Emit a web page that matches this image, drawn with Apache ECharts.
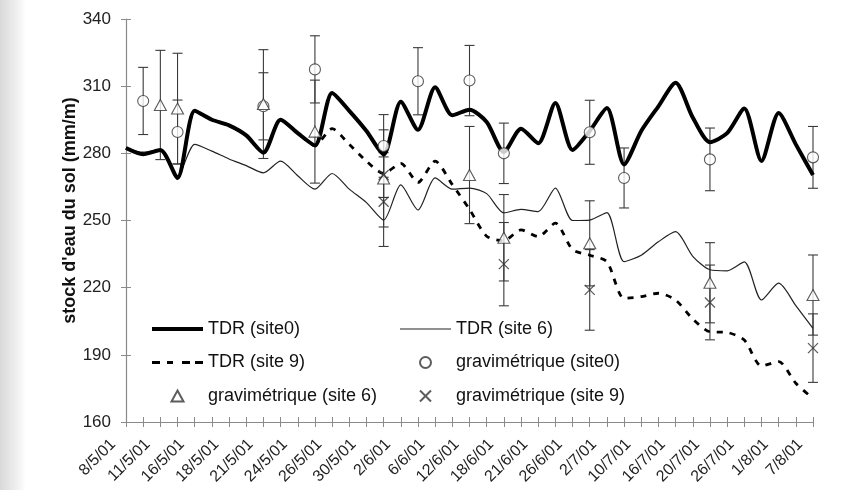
<!DOCTYPE html>
<html><head><meta charset="utf-8">
<script src="https://cdn.jsdelivr.net/npm/echarts/dist/echarts.min.js"></script>
<style>html,body{margin:0;padding:0;background:#fff}#c{width:843px;height:490px}</style>
</head><body><div id="c"></div>
<script>
// ---- data ----
const dateLabels = ['8/5/01','11/5/01','16/5/01','18/5/01','21/5/01','24/5/01','26/5/01','30/5/01','2/6/01','6/6/01','12/6/01','18/6/01','21/6/01','26/6/01','2/7/01','10/7/01','16/7/01','20/7/01','26/7/01','1/8/01','7/8/01'];
// 41 category ticks: labelled dates on even ticks, unlabelled ticks between
const categories = [];
dateLabels.forEach((d, i) => { categories.push(d); if (i < dateLabels.length - 1) categories.push(''); });

const tdrSite0 = [282.4,279.6,281.5,269,299,295,292.5,288,280.3,295,289,283.5,307,299,290,279.5,303,290.5,309.5,297,299.5,294,280.6,291,284.5,302.5,281.5,290,300.2,275,290,301,311.5,296,285,289,300,276.6,298,284,270.3];
const tdrSite6 = [282.4,280.5,281.5,270,284,281,277.5,274.5,271.3,276.5,270,264,271,264,258,250.2,265.9,254.7,269,264,264.5,262,253.4,255,254,264.5,250,250.2,253.5,231.6,234.5,240.5,245,234,228,227.5,231.5,214.5,222,212,201.8];
const tdrSite9 = [282.4,279.6,281.5,269,299,295,292.5,288,280.3,295,289,283.5,291,284,276.5,271,275.5,267,276.5,266,255,243,241,245.8,242.8,248.8,237,234.5,231.6,215.2,216,217.5,214.5,206,200.3,200,196.6,185,187,177.3,170.5];

const grav0Idx = [1,3,8,11,15,17,20,22,27,29,34,40];
const grav0Val = [303.4,289.5,301,317.5,283.3,312.2,312.5,280,289.4,269,277.3,278.2];
const grav0Err = [15,14.3,15,15,14,15,15.7,13.5,14.3,13.4,14,13.8];

const grav6Idx = [2,3,8,11,15,20,22,27,34,40];
const grav6Val = [301.6,300,302,289.7,268.8,270.3,242.3,239.8,222.2,216.7];
const grav6Err = [24.4,24.7,24.3,23,21.7,21.7,19.3,19,17.9,17.9];

const grav9Idx = [15,15,22,27,34,40];
const grav9Val = [270.3,258.4,230.5,219,213.4,193];
const grav9Err = [10,20,18.6,18,16.7,15.3];

const yTicks = {min:160, max:340, step:30};
// ---- end data ----

const FONT = '"Liberation Sans", Arial, sans-serif';
const pts = (idx, val) => idx.map((x, i) => [x, val[i]]);
const bars = (idx, val, err) => idx.map((x, i) => [x, val[i] - err[i], val[i] + err[i]]);

function errRender(params, api) {
  const x = api.value(0);
  const p1 = api.coord([x, api.value(2)]);
  const p2 = api.coord([x, api.value(1)]);
  const w = 5, st = {stroke:'#3a3a3a', lineWidth:1.1};
  return {type:'group', children:[
    {type:'line', shape:{x1:p1[0], y1:p1[1], x2:p2[0], y2:p2[1]}, style:st},
    {type:'line', shape:{x1:p1[0]-w, y1:p1[1], x2:p1[0]+w, y2:p1[1]}, style:st},
    {type:'line', shape:{x1:p2[0]-w, y1:p2[1], x2:p2[0]+w, y2:p2[1]}, style:st}
  ]};
}
function errSeries(data) {
  return {type:'custom', renderItem:errRender, data:data, encode:{x:0, y:[1,2]}, z:1, silent:true, legendHoverLink:false};
}

// legend icon shapes (51 x 11 box, tiny corner squares fix the box)
const BOX = 'M0,0h0.01v0.01h-0.01z M50.99,10.99h0.01v0.01h-0.01z ';
const iconBold = 'path://' + BOX + 'M0,3.5H51V7.5H0z';
const iconThin = 'path://' + BOX + 'M0,4.9H51V6.1H0z';
const iconDash = 'path://' + BOX + 'M0,4H8V7H0z M15,4H21V7H15z M30,4H38V7H30z M43,4H51V7H43z';
const triSym = 'path://M6,0L12,11L0,11Z';
const xSym = 'path://M0,0L10,10M10,0L0,10';

const chart = echarts.init(document.getElementById('c'), null, {renderer:'canvas'});
const axisGrey = '#8a8a8a';
chart.setOption({
  animation:false,
  backgroundColor:'#fff',
  textStyle:{fontFamily:FONT},
  graphic:[{type:'rect', left:0, top:0, shape:{width:26, height:490}, z:-10,
    style:{fill:{type:'linear', x:0, y:0, x2:1, y2:0, colorStops:[{offset:0, color:'#d9d9d9'},{offset:0.6, color:'#eeeeee'},{offset:1, color:'#ffffff'}]}}}],
  grid:{left:126, top:19, right:30, bottom:68, containLabel:false},
  xAxis:[{
    type:'category', data:categories, boundaryGap:false,
    axisLine:{lineStyle:{color:axisGrey, width:1.2}},
    axisTick:{interval:0, length:5, lineStyle:{color:axisGrey}},
    axisLabel:{interval:0, rotate:45, fontSize:16, color:'#222', fontFamily:FONT, margin:7, padding:[0,18,0,0]},
    splitLine:{show:false}
  },{
    type:'category', data:categories, boundaryGap:false, position:'bottom',
    axisLine:{show:false},
    axisTick:{interval:0, length:5, inside:true, lineStyle:{color:axisGrey}},
    axisLabel:{show:false}, splitLine:{show:false}
  }],
  yAxis:[{
    type:'value', min:yTicks.min, max:yTicks.max, interval:yTicks.step,
    name:"stock d'eau du sol (mm/m)", nameLocation:'middle', nameRotate:90, nameGap:47, nameMoveOverlap:false,
    nameTextStyle:{fontSize:18, fontWeight:'bold', color:'#111', fontFamily:FONT, padding:[0,0,0,20]},
    axisLine:{show:true, lineStyle:{color:axisGrey, width:1.2}},
    axisTick:{show:true, length:5, lineStyle:{color:axisGrey}},
    axisLabel:{fontSize:17, color:'#222', fontFamily:FONT, margin:15},
    splitLine:{show:false}
  },{
    type:'value', min:yTicks.min, max:yTicks.max, interval:yTicks.step, position:'left',
    axisLine:{show:false},
    axisTick:{show:true, inside:true, length:5, lineStyle:{color:axisGrey}},
    axisLabel:{show:false}, splitLine:{show:false}
  }],
  legend:[{
    orient:'vertical', left:147, top:314, itemWidth:51, itemHeight:11, itemGap:13.5, padding:5,
    textStyle:{fontSize:18, color:'#111', fontFamily:FONT, lineHeight:20},
    data:[{name:'TDR (site0)', icon:iconBold},{name:'TDR (site 9)', icon:iconDash},'gravimétrique (site 6)'], selectedMode:false
  },{
    orient:'vertical', left:395, top:314, itemWidth:51, itemHeight:11, itemGap:13.5, padding:5,
    textStyle:{fontSize:18, color:'#111', fontFamily:FONT, lineHeight:20},
    data:[{name:'TDR (site 6)', icon:iconThin},'gravimétrique (site0)','gravimétrique (site 9)'], selectedMode:false
  }],
  series:[
    errSeries(bars(grav0Idx, grav0Val, grav0Err)),
    errSeries(bars(grav6Idx, grav6Val, grav6Err)),
    errSeries(bars(grav9Idx, grav9Val, grav9Err)),
    {name:'TDR (site 6)', type:'line', data:tdrSite6, symbol:'none', smooth:0.25, z:2,
      lineStyle:{color:'#222', width:1.2}, itemStyle:{color:'#222'}},
    {name:'TDR (site 9)', type:'line', data:tdrSite9, symbol:'none', smooth:0.25, z:3,
      lineStyle:{color:'#000', width:2.8, type:[6,7]}, itemStyle:{color:'#000'}},
    {name:'gravimétrique (site0)', type:'scatter', data:pts(grav0Idx, grav0Val), symbol:'circle', symbolSize:11, z:5,
      itemStyle:{color:'#fff', borderColor:'#333', borderWidth:1.1}},
    {name:'gravimétrique (site 6)', type:'scatter', data:pts(grav6Idx, grav6Val), symbol:triSym, symbolSize:[12,11], z:5,
      itemStyle:{color:'#fff', borderColor:'#333', borderWidth:1.1}},
    {name:'gravimétrique (site 9)', type:'scatter', data:pts(grav9Idx, grav9Val), symbol:xSym, symbolSize:10, z:5,
      itemStyle:{color:'none', borderColor:'#333', borderWidth:1.3}},
    {name:'TDR (site0)', type:'line', data:tdrSite0, symbol:'none', smooth:0.25, z:4,
      lineStyle:{color:'#000', width:4}, itemStyle:{color:'#000'}}
  ]
});
</script>
</body></html>
